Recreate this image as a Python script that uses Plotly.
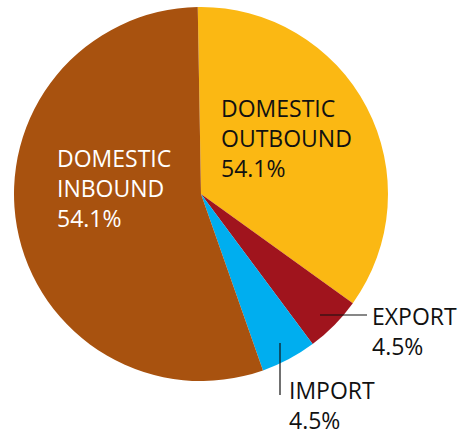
import plotly.graph_objects as go

W, H = 461, 436

categories = ["DOMESTIC OUTBOUND", "EXPORT", "IMPORT", "DOMESTIC INBOUND"]
values = [35.2, 4.9, 4.8, 55.1]
shown_pct = ["54.1%", "4.5%", "4.5%", "54.1%"]
colors = ["#FBB813", "#A0141D", "#00AEEF", "#A8520F"]

def px(x):
    return x / W

def py(y):
    return 1 - y / H

fig = go.Figure(go.Pie(
    labels=categories,
    values=values,
    sort=False,
    direction="clockwise",
    rotation=-1,
    marker=dict(colors=colors, line=dict(width=0)),
    textinfo="none",
    hoverinfo="label+percent",
    showlegend=False,
    domain=dict(x=[px(14), px(388)], y=[py(381), py(7)]),
))

font = "Open Sans, Noto Sans, sans-serif"
ann = [
    (220, 91, "DOMESTIC<br>OUTBOUND<br>" + shown_pct[0], "#111111"),
    (56, 141, "DOMESTIC<br>INBOUND<br>" + shown_pct[3], "#ffffff"),
    (371, 299, "EXPORT<br>" + shown_pct[1], "#111111"),
    (288, 373, "IMPORT<br>" + shown_pct[2], "#111111"),
]
annotations = [
    dict(x=px(x), y=py(y), xref="paper", yref="paper", xanchor="left", yanchor="top",
         text=t, showarrow=False, align="left", borderpad=0,
         font=dict(family=font, size=23, color=c))
    for x, y, t, c in ann
]

shapes = [
    dict(type="line", xref="paper", yref="paper", x0=px(320), x1=px(367), y0=py(315), y1=py(315),
         line=dict(color="#111111", width=1.2)),
    dict(type="line", xref="paper", yref="paper", x0=px(280), x1=px(280), y0=py(343), y1=py(395),
         line=dict(color="#111111", width=1.2)),
]

fig.update_layout(
    width=W, height=H,
    margin=dict(l=0, r=0, t=0, b=0),
    paper_bgcolor="white",
    plot_bgcolor="white",
    annotations=annotations,
    shapes=shapes,
)

fig.write_html("out.html")
